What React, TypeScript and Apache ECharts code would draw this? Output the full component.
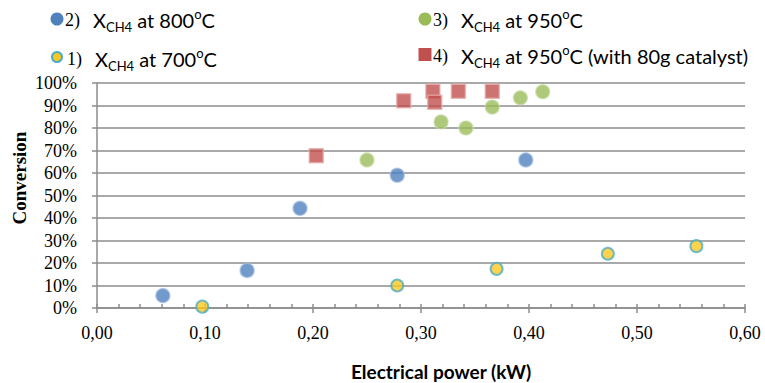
import React, { useEffect, useRef } from "react";
import * as echarts from "echarts";

const s800X = [0.061, 0.139, 0.188, 0.278, 0.397];
const s800Y = [5.5, 16.7, 44.3, 59, 65.8];
const s700X = [0.0975, 0.278, 0.37, 0.473, 0.555];
const s700Y = [0.6, 10, 17.4, 24.1, 27.5];
const s950X = [0.25, 0.3186, 0.3416, 0.366, 0.392, 0.4127];
const s950Y = [65.8, 82.7, 80, 89.3, 93.4, 96.1];
const s950cX = [0.203, 0.284, 0.311, 0.3127, 0.3346, 0.366];
const s950cY = [67.7, 92.1, 96.3, 91.4, 96.3, 96.3];
const xTicks = [0, 0.6, 0.1];
const yTicks = [0, 100, 10];

const zip = (xs: number[], ys: number[]) => xs.map((x, i) => [x, ys[i]]);

const SANS = "Lato";
const SERIF = "'Liberation Serif', 'Times New Roman', serif";

function legendText(num: string, temp: string, tail: string) {
  return `{n|${num}}{x|X}{s|CH4}{t| at ${temp}}{o|o}{t|C${tail}}`;
}
const legendRich = {
  n: { fontFamily: SERIF, fontSize: 18, lineHeight: 26, padding: [0, 13, 0, 0] },
  x: { fontFamily: SANS, fontSize: 20, lineHeight: 26 },
  t: { fontFamily: SANS, fontSize: 20, lineHeight: 26 },
  s: { fontFamily: SANS, fontSize: 13, lineHeight: 13, verticalAlign: "bottom" },
  o: { fontFamily: SANS, fontSize: 13, lineHeight: 13, verticalAlign: "top" },
};

export default function App() {
  const ref = useRef<HTMLDivElement>(null);
  useEffect(() => {
    if (!ref.current) return;
    const chart = echarts.init(ref.current, undefined, { renderer: "svg" });
    const grid = "#8c8c8c";
    const mkText = (x: number, y: number, text: string) => ({
      type: "text",
      x,
      y,
      style: { text, rich: legendRich, fill: "#000", verticalAlign: "middle" },
    });
    chart.setOption({
      animation: false,
      grid: { left: 97, right: 20, top: 83, bottom: 75 },
      xAxis: [
        {
          type: "value",
          min: xTicks[0],
          max: xTicks[1],
          interval: xTicks[2],
          position: "bottom",
          axisLine: { show: true, lineStyle: { color: grid, width: 1.5 } },
          axisTick: { show: true, inside: false, length: 5, lineStyle: { color: grid, width: 1.5 } },
          splitLine: { show: false },
          axisLabel: {
            fontFamily: SERIF,
            fontSize: 18,
            color: "#000",
            margin: 16,
            formatter: (v: number) => v.toFixed(2).replace(".", ","),
          },
        },
        {
          type: "value",
          min: 0,
          max: 0.6,
          interval: 0.02,
          position: "bottom",
          axisLine: { show: false },
          axisTick: { show: true, inside: true, length: 4, lineStyle: { color: grid, width: 1.5 } },
          splitLine: { show: false },
          axisLabel: { show: false },
        },
      ],
      yAxis: {
        type: "value",
        min: yTicks[0],
        max: yTicks[1],
        interval: yTicks[2],
        axisLine: { show: true, lineStyle: { color: grid, width: 1.5 } },
        axisTick: { show: true, inside: false, length: 5, lineStyle: { color: grid, width: 1.5 } },
        splitLine: { show: true, lineStyle: { color: grid, width: 1.5 } },
        axisLabel: {
          fontFamily: SERIF,
          fontSize: 18,
          color: "#000",
          margin: 20,
          formatter: (v: number) => `${v}%`,
        },
      },
      graphic: [
        {
          type: "text",
          x: 19,
          y: 178,
          rotation: Math.PI / 2,
          style: {
            text: "Conversion",
            fontFamily: SERIF,
            fontWeight: "bold",
            fontSize: 19,
            fill: "#000",
            align: "center",
            verticalAlign: "middle",
          },
        },
        {
          type: "text",
          x: 441,
          y: 371,
          style: {
            text: "Electrical power (kW)",
            fontFamily: SANS,
            fontWeight: "bold",
            fontSize: 19,
            fill: "#000",
            align: "center",
            verticalAlign: "middle",
          },
        },
        { type: "circle", shape: { cx: 57, cy: 19, r: 6.5 }, style: { fill: "#4f81bd" } },
        { type: "circle", shape: { cx: 57, cy: 57, r: 5 }, style: { fill: "#fcc820", stroke: "#4bacc6", lineWidth: 2 } },
        { type: "circle", shape: { cx: 425, cy: 19, r: 6.5 }, style: { fill: "#9bbb59" } },
        { type: "rect", shape: { x: 418.5, y: 48, width: 13, height: 13 }, style: { fill: "#c0504d" } },
        mkText(65, 20, legendText("2)", "800", "")),
        mkText(67, 59, legendText("1)", "700", "")),
        mkText(433, 20, legendText("3)", "950", "")),
        mkText(433, 56, legendText("4)", "950", " (with 80g catalyst)")),
      ],
      series: [
        {
          type: "scatter",
          name: "800",
          data: zip(s800X, s800Y),
          symbol: "circle",
          symbolSize: 14,
          itemStyle: { color: "#4f81bd", borderColor: "rgba(160,190,225,0.8)", borderWidth: 1.5 },
        },
        {
          type: "scatter",
          name: "700",
          data: zip(s700X, s700Y),
          symbol: "circle",
          symbolSize: 12,
          itemStyle: { color: "#fcc820", borderColor: "#4bacc6", borderWidth: 2 },
        },
        {
          type: "scatter",
          name: "950",
          data: zip(s950X, s950Y),
          symbol: "circle",
          symbolSize: 14,
          itemStyle: { color: "#9bbb59", borderColor: "rgba(200,220,170,0.8)", borderWidth: 1.5 },
        },
        {
          type: "scatter",
          name: "950c",
          data: zip(s950cX, s950cY),
          symbol: "rect",
          symbolSize: 14,
          itemStyle: { color: "#c0504d", borderColor: "rgba(230,170,170,0.9)", borderWidth: 1.5 },
        },
      ],
    });
    return () => chart.dispose();
  }, []);
  return (
    <div
      ref={ref}
      style={{ position: "absolute", left: 0, top: 0, width: 765, height: 383, background: "#fff" }}
    />
  );
}
